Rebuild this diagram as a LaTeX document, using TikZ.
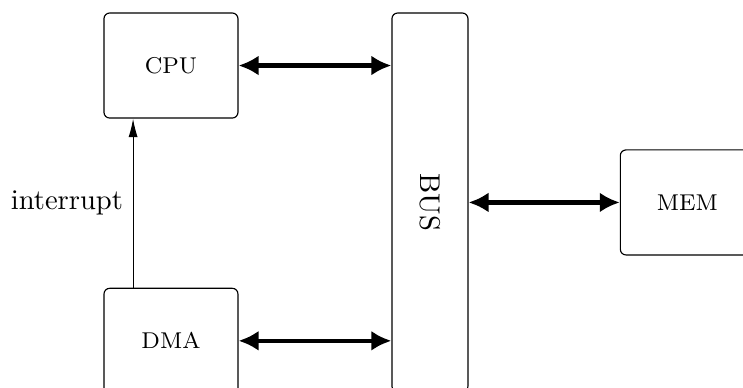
\documentclass[tikz,border=0pt]{standalone}
\usepackage{tikz}
\usetikzlibrary{arrows.meta,positioning}

\begin{document}
\begin{tikzpicture}[
  node distance=1.9cm and 1.9cm,
  unit/.style={draw, rounded corners=2pt, minimum width=1.648cm,
               minimum height=1.292cm, font=\footnotesize, align=center},
  busline/.style={draw, rounded corners=2pt, minimum width=0.935cm,
                  minimum height=4.66cm},
  dbl/.style={{Latex[length=7pt,width=7pt]}-{Latex[length=7pt,width=7pt]}, line width=1.5pt},
  sig/.style={-{Latex[length=6.5pt,width=3.2pt]}},
]
  \useasboundingbox (0,0) rectangle (9.139,-4.772);

  \node[unit] (cpu) at (2.103,-0.806) {CPU};
  \node[busline, right=1.88cm of cpu.north east, anchor=north west] (bus) {\rotatebox{-90}{BUS}};
  \node[unit, below=2.08cm of cpu] (dma) {DMA};
  \node[unit, right=1.86cm of bus] (mem) {MEM};

  \draw[dbl] (cpu.east) -- (cpu.east -| bus.west);
  \draw[dbl] (dma.east) -- (dma.east -| bus.west);
  \draw[dbl] (mem.west -| bus.east) -- (mem.west);

  % interrupt line from DMA up to CPU
  \draw[sig] ([xshift=3.65mm]dma.north west) -- ([xshift=3.65mm]cpu.south west)
    node[midway, left] {interrupt};
\end{tikzpicture}
\end{document}
